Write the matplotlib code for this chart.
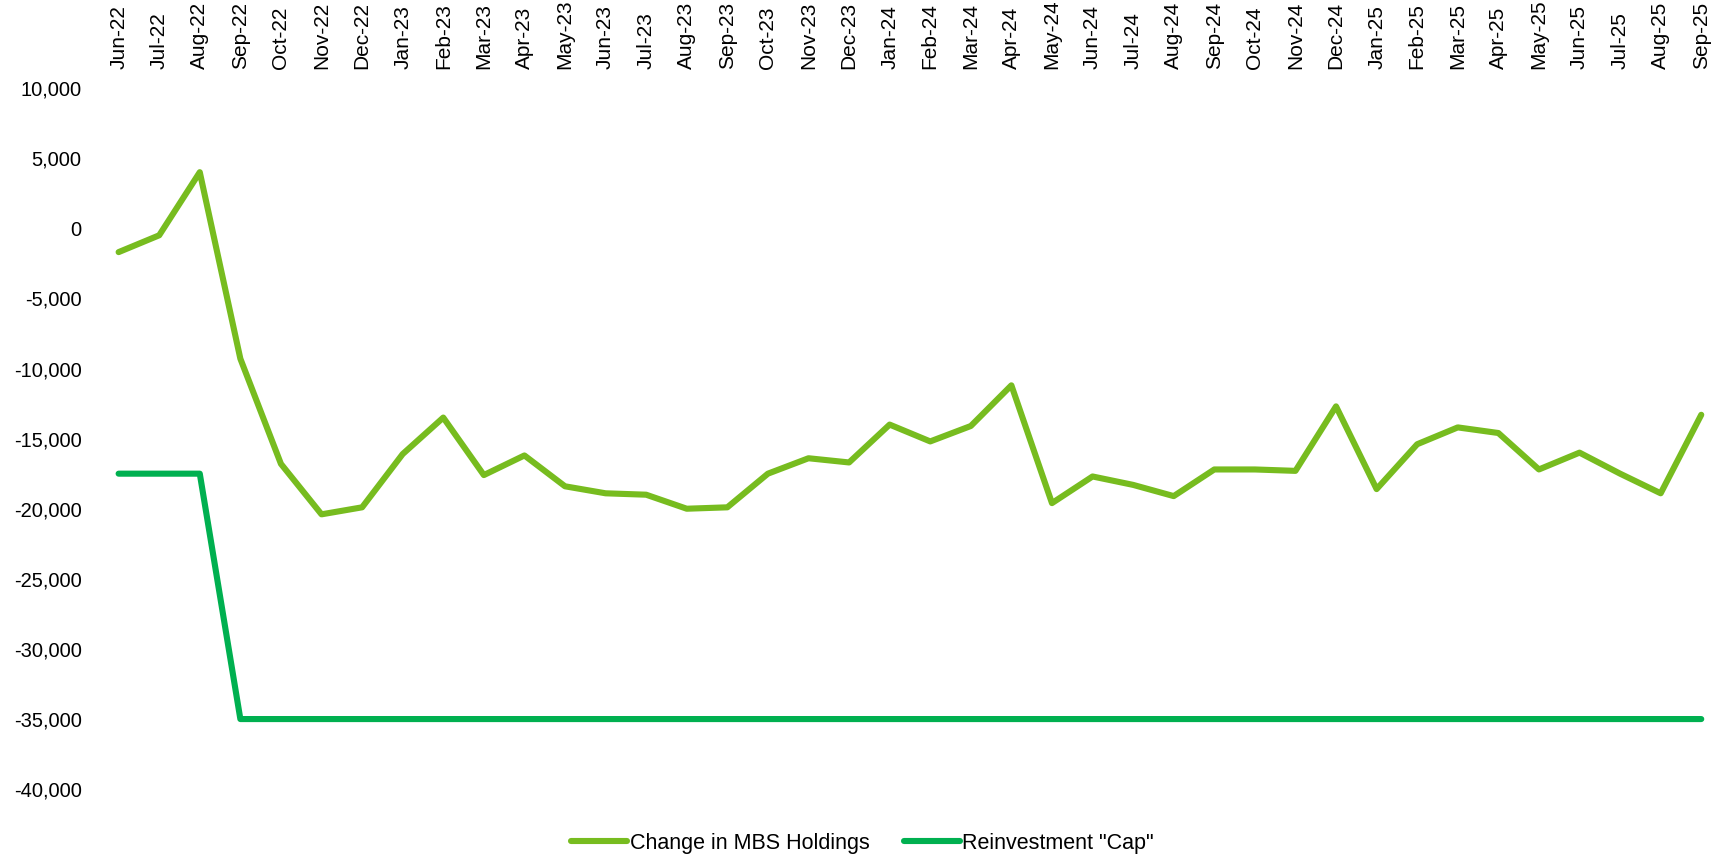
import matplotlib.pyplot as plt
import numpy as np

# Monthly labels, Jun-22 .. Sep-25
months = ["Jun-22", "Jul-22", "Aug-22", "Sep-22", "Oct-22", "Nov-22", "Dec-22",
          "Jan-23", "Feb-23", "Mar-23", "Apr-23", "May-23", "Jun-23", "Jul-23",
          "Aug-23", "Sep-23", "Oct-23", "Nov-23", "Dec-23",
          "Jan-24", "Feb-24", "Mar-24", "Apr-24", "May-24", "Jun-24", "Jul-24",
          "Aug-24", "Sep-24", "Oct-24", "Nov-24", "Dec-24",
          "Jan-25", "Feb-25", "Mar-25", "Apr-25", "May-25", "Jun-25", "Jul-25",
          "Aug-25", "Sep-25"]

# Change in MBS holdings
mbs_change = [-1700, -500, 4000, -9300, -16800, -20400, -19900,
              -16100, -13500, -17600, -16200, -18400, -18900, -19000,
              -20000, -19900, -17500, -16400, -16700,
              -14000, -15200, -14100, -11200, -19600, -17700, -18300,
              -19100, -17200, -17200, -17300, -12700,
              -18600, -15400, -14200, -14600, -17200, -16000, -17500,
              -18900, -13300]

# Reinvestment cap
cap = [-17500, -17500, -17500] + [-35000] * 37

y_ticks = [10000, 5000, 0, -5000, -10000, -15000, -20000, -25000, -30000, -35000, -40000]

plt.rcParams["font.family"] = ["Liberation Sans", "DejaVu Sans"]

fig = plt.figure(figsize=(17.25, 8.55), dpi=100)
ax = fig.add_axes([0.057, 0.077, 0.941, 0.82])

x = np.arange(len(months))
ax.plot(x, mbs_change, color="#77BC1F", linewidth=4.4, label="Change in MBS Holdings",
        solid_joinstyle="round", solid_capstyle="round")
ax.plot(x, cap, color="#00B050", linewidth=4.4, label='Reinvestment "Cap"',
        solid_joinstyle="round", solid_capstyle="round")

ax.set_xlim(-0.5, len(months) - 0.5)
ax.set_ylim(-40000, 10000)

ax.xaxis.tick_top()
ax.set_xticks(x)
ax.set_xticklabels(months, rotation=90, fontsize=15)
ax.set_yticks(y_ticks)
ax.set_yticklabels([f"{v:,}" for v in y_ticks], fontsize=14.5)
ax.tick_params(axis="both", length=0)
ax.tick_params(axis="x", pad=14)
ax.tick_params(axis="y", pad=12)

for s in ax.spines.values():
    s.set_visible(False)

fig.legend(loc="lower center", bbox_to_anchor=(0.5, -0.021), ncol=2, frameon=False,
           prop={"size": 15.5},
           handlelength=2.6, handletextpad=0.1, columnspacing=1.6)

fig.savefig("out.png", dpi=100)
